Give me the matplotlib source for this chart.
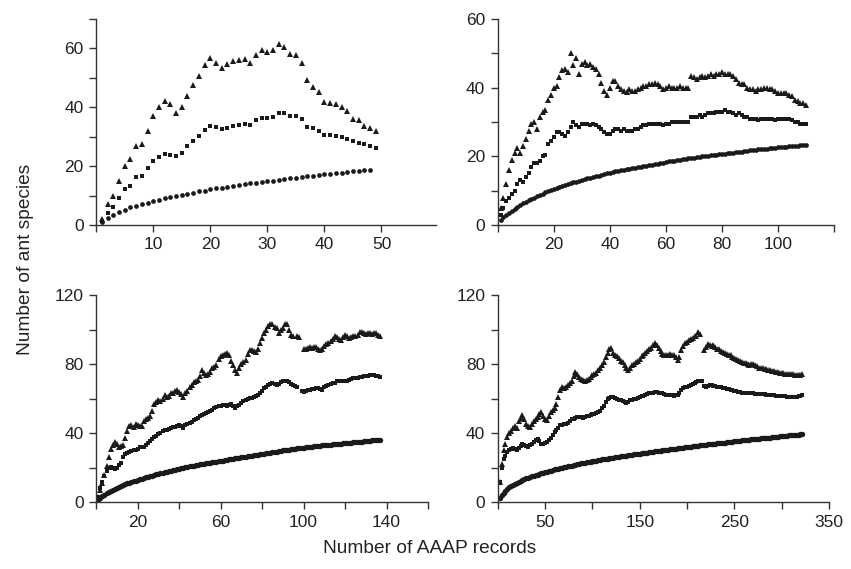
import numpy as np
import matplotlib
matplotlib.use("Agg")
import matplotlib.pyplot as plt

plt.rcParams['font.family'] = ['Liberation Sans', 'DejaVu Sans']

# panel 1 (records 1..49)
tri1 = [2, 7, 10, 15, 20, 22.5, 27, 27.5, 32, 37,
        40, 42, 41, 38, 40, 44, 47.5, 50.5, 54.5, 56.7,
        55.2, 53.3, 54.8, 55.8, 56, 56.3, 55, 57.8, 59.3, 58.7,
        59.5, 61.5, 60.4, 58.2, 57.8, 55, 49.2, 46.9, 45.2, 41.8,
        41.5, 41, 40, 38.8, 36, 35.6, 33.6, 33.1, 31.9]
sq1 = [1.5, 4.2, 6.2, 9, 12.2, 13.2, 16.2, 16.6, 19.2, 21.7,
       23.2, 24.1, 23.7, 23.4, 24.5, 26.8, 28.6, 30.3, 32.4, 33.6,
       33.3, 32.5, 33, 33.8, 33.9, 34.3, 33.9, 35.6, 36.2, 36.2,
       36.7, 37.9, 37.9, 37, 37, 35.9, 33.4, 32.8, 32, 30.6,
       30.6, 30.2, 29.8, 29.2, 28.6, 28, 27.4, 27, 26]
circ1 = [1, 2.4, 3.5, 4.4, 5.2, 6, 6.5, 7, 7.6, 8,
         8.6, 9, 9.5, 9.8, 10.3, 10.6, 11, 11.4, 11.7, 12.1,
         12.4, 12.7, 13, 13.3, 13.6, 13.9, 14.1, 14.4, 14.6, 14.9,
         15.1, 15.4, 15.6, 15.9, 16.1, 16.3, 16.6, 16.8, 17, 17.2,
         17.4, 17.6, 17.8, 18, 18.2, 18.4, 18.6, 18.8]

# panel 2 (records 1..110)
tri2 = [5, 8, 12, 16, 19, 21, 22.5, 21, 23, 25,
        27.5, 29.5, 30, 28, 31.5, 33, 33.5, 36.5, 38, 40,
        40.5, 43, 45, 45.5, 44.5, 50, 46.5, 48.5, 44, 47,
        47.5, 46.5, 47, 46, 45.5, 44, 41.5, 39, 38, 40,
        42, 42, 40.5, 39.5, 39, 38.8, 39.5, 39, 39, 39.5,
        40, 40.5, 40.5, 41, 41, 41.5, 41, 40.5, 39.5, 40,
        40.5, 40, 40, 40, 40.5, 40, 40, 40, 43.5, 43,
        42.5, 43, 43.5, 43, 43.5, 44, 43.5, 44, 44, 44.5,
        44, 44, 44, 43.5, 42.5, 41.5, 41, 41, 40, 39.5,
        39.5, 39, 39.5, 39.5, 40, 40, 39.5, 39.5, 39, 38.5,
        38.5, 38.5, 38.5, 38, 37.5, 36.5, 36, 35.5, 35.5, 35]
sq2 = [3, 5, 7, 8, 9, 10, 12, 13, 12.5, 14,
       15, 17, 18, 18, 18.5, 20, 20.5, 23.5, 24.5, 25.5,
       27, 27, 26.5, 26, 27, 28.5, 30, 29, 28.5, 29.5,
       29.5, 29.5, 29, 29.5, 29, 28.5, 28, 27, 26.5, 26.5,
       27.5, 28, 28, 27.5, 28, 27.5, 27.5, 27.5, 28, 28,
       28.5, 29, 29, 29.5, 29.5, 29.5, 29.5, 29.5, 29, 29.5,
       29.5, 30, 30, 30, 30, 30, 30, 30, 31.5, 31.5,
       31.5, 32, 31.5, 32, 32.5, 32.5, 32.5, 33, 33, 33,
       33.5, 33, 33, 32.5, 32, 32.5, 32, 31.5, 31.5, 31,
       31, 31, 30.5, 31, 31, 31, 31, 31, 30.5, 31,
       31, 31, 31, 31, 30.5, 30, 30, 29.5, 29.5, 29.5]
circ2 = [1.5, 2.3, 3, 3.6, 4.2, 4.8, 5.3, 5.8, 6.3, 6.8,
         7.2, 7.6, 8, 8.4, 8.8, 9.1, 9.5, 9.8, 10.1, 10.4,
         10.7, 11, 11.3, 11.6, 11.9, 12.1, 12.4, 12.6, 12.9, 13.1,
         13.3, 13.6, 13.8, 14, 14.2, 14.4, 14.6, 14.8, 15, 15.2,
         15.4, 15.6, 15.7, 15.9, 16.1, 16.2, 16.4, 16.6, 16.7, 16.9,
         17, 17.2, 17.3, 17.5, 17.6, 17.8, 17.9, 18.1, 18.2, 18.3,
         18.5, 18.6, 18.7, 18.9, 19, 19.1, 19.2, 19.4, 19.5, 19.6,
         19.7, 19.8, 20, 20.1, 20.2, 20.3, 20.4, 20.5, 20.6, 20.7,
         20.8, 20.9, 21, 21.1, 21.2, 21.3, 21.4, 21.5, 21.6, 21.7,
         21.8, 21.9, 22, 22.1, 22.2, 22.2, 22.3, 22.4, 22.5, 22.6,
         22.7, 22.7, 22.8, 22.9, 23, 23, 23.1, 23.2, 23.3, 23.3]

# panel 3 (records 1..137), nan = break in the series
nan = np.nan
tri3 = [3, 7, 11, 16, 21, 26, 31, 33, 35, 33.5,
        32, 32.5, 33, 37, 41, 44, 44.5, 43.5, 45.5, 45,
        44, 44, 47, 48.5, 49, 50, 53, 57, 58, 59,
        58.5, 60, 62, 61, 61.5, 63, 63.5, 64.5, 65, 64,
        62.5, 61, 63, 64.5, 66.5, 68, 69.5, 70, 71, 73,
        76.5, 75, 73.5, 74.5, 75.5, 77.5, 78.5, 79.5, 83, 84.5,
        85.5, 86, 86.5, 85, 82, 79.5, 76.5, 75, 78, 80,
        81.5, 82.5, 86, 88, 88, 87.5, 87, 89, 92, 95,
        98, 100, 102, 103.5, 103, 101.5, 101, 98, 99.5, 101,
        103, 103.5, 100, 97, 96, nan, 96, 95.5, nan, 89,
        89, 89.5, 90, 89.5, 90, 90, 89, 88, 89, 90.5,
        91.5, 92, 93.5, 94.5, 96, 95.5, 94.5, 94, 95.5, 97,
        96, 95, 95.5, 96, 96.5, 97, 98.5, 98.5, 98, 97.5,
        98, 98, 97.5, 98, 98, 97, 96]
sq3 = [3, 8, 12, 15, 18, 20, 20.5, 20, 19.5, 20,
       21.5, 23, 26, 28, 28.5, 29, 29.5, 30, 30.5, 31,
       32, 32, 32, 33, 34.5, 35.5, 36.5, 38, 38.5, 39.5,
       40, 41, 42, 42, 42.5, 43, 43.5, 43.5, 44, 44.5,
       44, 43, 44.5, 45.5, 46, 46.5, 47.5, 48.5, 49, 50,
       50.5, 51, 51.5, 52, 53, 53.5, 54.5, 55, 55.5, 56,
       56.5, 56.5, 56, 56.5, 57, 55.5, 54.5, 55.5, 56.5, 57.5,
       58.5, 59, 60, 60.5, 60.5, 61, 61.5, 62, 63, 64.5,
       66, 67, 68, 68.5, 69, 68.5, 68, 68.5, 69.5, 70,
       70.5, 70.5, 69.5, 68.5, 68, 67.5, 67, nan, 64.5, 64,
       64.5, 65, 65, 65.5, 65.5, 66, 66, 65.5, 65, 66.5,
       67.5, 68, 68.5, 69, 69, 70, 70.5, 70.5, 70, 70,
       70.5, 71, 71.5, 72, 72, 72, 72.5, 72.5, 73, 73,
       73, 73.5, 73.5, 73.5, 73, 73, 72.5]
circ3 = [1.5, 2.5, 3.5, 4.5, 5.5, 6.1, 6.7, 7.3, 7.9, 8.5,
         9, 9.5, 10, 10.5, 11, 11.4, 11.8, 12.2, 12.6, 13,
         13.4, 13.7, 14.1, 14.4, 14.8, 15.1, 15.5, 15.8, 16.2, 16.5,
         16.8, 17.1, 17.4, 17.7, 18, 18.3, 18.6, 18.9, 19.2, 19.5,
         19.8, 20, 20.3, 20.5, 20.8, 21, 21.3, 21.5, 21.8, 22,
         22.2, 22.4, 22.6, 22.8, 23, 23.2, 23.4, 23.6, 23.8, 24,
         24.2, 24.4, 24.6, 24.8, 25, 25.2, 25.4, 25.6, 25.8, 26,
         26.2, 26.4, 26.6, 26.8, 27, 27.2, 27.4, 27.6, 27.8, 28,
         28.2, 28.4, 28.6, 28.8, 29, 29.2, 29.4, 29.6, 29.8, 30,
         30.2, 30.4, 30.5, 30.7, 30.9, 31, 31.2, 31.4, 31.5, 31.7,
         31.8, 32, 32.1, 32.3, 32.4, 32.5, 32.6, 32.8, 32.9, 33,
         33.1, 33.3, 33.4, 33.5, 33.6, 33.8, 33.9, 34, 34.2, 34.3,
         34.4, 34.5, 34.6, 34.8, 34.9, 35, 35.1, 35.2, 35.4, 35.5,
         35.6, 35.7, 35.8, 35.9, 36, 36.2, 36.3]

# panel 4 (every second record, 2..322)
tri4 = [12, 22, 30, 34, 38, 40, 41, 43, 44, 43,
        47, 49, 50.5, 48, 45.5, 44, 43.5, 45.5, 47, 48,
        49.5, 51, 52.5, 50, 48, 47.5, 50, 52.5, 53.5, 54.5,
        57, 61, 65, 66.5, 66, 67, 68, 69, 70.5, 73,
        75.5, 74, 72.5, 71.5, 71, 70.5, 71, 71.5, 72.5, 73.5,
        74, 75, 76.5, 78, 79.5, 81.5, 84, 86.5, 89, 89.5,
        86.5, 85.5, 84.5, 83.5, 82, 81, 79.5, 78, 76.5, 77.5,
        79.5, 80, 81, 82, 83, 84.5, 85.5, 86.5, 87.5, 89,
        89.5, 91, 92, 91, 89.5, 87.5, 86, 85.5, 85, 85.5,
        86, 85.5, 85, 84, 82.5, 84, 88, 90.5, 92, 93,
        94, 94.5, 95, 96, 96.5, 98.5, 97.5, nan, 88, 90,
        91.5, 91, 90.5, 91, 90, 89, 88.5, 87.5, 87, 86.5,
        86, 85.5, 85, 84, 83.5, 83, 82.5, 82, 81, 80.5,
        80.5, 80, 79.5, 80, 80, 79.5, 79, 78, 77.5, 77.5,
        77, 77, 76.5, 76.5, 76, 76, 75.5, 75.5, 75, 75,
        75, 74.5, 74.5, 74.5, 74, 74, 73.5, 73.5, 73.5, 73.5,
        74]
sq4 = [12, 20, 25, 27, 29, 30, 31, 31.5, 31, 30.5,
       31.5, 32.5, 33.5, 33, 32.5, 32, 33, 34, 35, 36,
       36.5, 35.5, 34, 33.5, 34.5, 35, 36, 37.5, 39, 40.5,
       42, 43, 44.5, 45, 45.5, 45.5, 46, 47, 48, 48.5,
       49, 49.5, 49.5, 49.5, 49, 49.5, 50, 50, 50.5, 51,
       51, 51.5, 52, 53, 54.5, 56, 58, 60, 60.5, 61,
       61, 60.5, 60, 59.5, 59, 58.5, 58, 57.5, 58, 59,
       59.5, 60, 60, 60.5, 61, 61.5, 61.5, 62, 62.5, 63,
       63, 63.5, 64, 64, 63.5, 63, 63, 62.5, 62, 62,
       62, 62, 61.5, 62, 62, 63, 65, 66, 66.5, 67,
       67.5, 68, 68.5, 69, 69.5, 70, 70.5, 70, 67.5, 67,
       67.5, 68, 68, 67.5, 67.5, 67, 67, 66.5, 66, 66,
       65.5, 65.5, 65, 65, 64.5, 64.5, 64, 64, 63.5, 63.5,
       63, 63, 63, 63, 63, 62.5, 62.5, 62.5, 62.5, 62.5,
       62.5, 62, 62, 62, 62, 62, 61.5, 61.5, 61.5, 61.5,
       61.5, 61.5, 61, 61, 61, 61, 61, 61, 61.5, 61.5,
       62]
circ4 = [2.5, 4, 5.3, 6.6, 7.8, 8.6, 9.4, 10.1, 10.8, 11.4,
         11.9, 12.4, 12.9, 13.4, 13.8, 14.2, 14.6, 15, 15.4, 15.8,
         16.1, 16.5, 16.8, 17.2, 17.5, 17.8, 18.1, 18.4, 18.7, 19,
         19.3, 19.5, 19.8, 20.1, 20.3, 20.6, 20.8, 21.1, 21.3, 21.6,
         21.8, 22, 22.3, 22.5, 22.7, 22.9, 23.1, 23.4, 23.6, 23.8,
         24, 24.2, 24.4, 24.6, 24.8, 25, 25.1, 25.3, 25.5, 25.7,
         25.9, 26, 26.2, 26.4, 26.6, 26.7, 26.9, 27.1, 27.2, 27.4,
         27.6, 27.7, 27.9, 28, 28.2, 28.4, 28.5, 28.7, 28.8, 29,
         29.2, 29.3, 29.5, 29.6, 29.8, 29.9, 30.1, 30.2, 30.4, 30.5,
         30.7, 30.8, 31, 31.1, 31.3, 31.4, 31.5, 31.7, 31.8, 32,
         32.1, 32.3, 32.4, 32.5, 32.7, 32.8, 32.9, 33.1, 33.2, 33.3,
         33.5, 33.6, 33.7, 33.9, 34, 34.1, 34.3, 34.4, 34.5, 34.6,
         34.8, 34.9, 35, 35.1, 35.3, 35.4, 35.5, 35.6, 35.8, 35.9,
         36, 36.1, 36.2, 36.4, 36.5, 36.6, 36.7, 36.8, 37, 37.1,
         37.2, 37.3, 37.4, 37.5, 37.7, 37.8, 37.9, 38, 38.1, 38.2,
         38.3, 38.5, 38.6, 38.7, 38.8, 38.9, 39, 39.1, 39.2, 39.3,
         39.5]

panels = [
    # data, record step, xlim, xticks, labelled xticks, ylim, yticks, labelled yticks
    ((tri1, sq1, circ1), 1, 59.5, range(0, 51, 10), [10, 20, 30, 40, 50], 70, range(0, 71, 10), [0, 20, 40, 60]),
    ((tri2, sq2, circ2), 1, 120, range(0, 121, 20), [20, 40, 60, 80, 100], 60, range(0, 61, 10), [0, 20, 40, 60]),
    ((tri3, sq3, circ3), 1, 160, range(0, 161, 20), [20, 60, 100, 140], 120, range(0, 121, 20), [0, 40, 80, 120]),
    ((tri4, sq4, circ4), 2, 350, range(0, 351, 50), [50, 150, 250, 350], 120, range(0, 121, 20), [0, 40, 80, 120]),
]
rects = [
    [0.113, 0.6046, 0.399, 0.362],
    [0.585, 0.6046, 0.395, 0.362],
    [0.113, 0.1172, 0.390, 0.3643],
    [0.585, 0.1172, 0.389, 0.3643],
]

fig = plt.figure(figsize=(8.51, 5.69), dpi=100)
ink = '#1a1a1a'
for i, ((series, step, xmax, xt, xlab, ymax, yt, ylab), r) in enumerate(zip(panels, rects)):
    ax = fig.add_axes(r)
    tri, sq, circ = series
    if i == 0:
        sizes = (4.0, 3.2, 3.4)
    elif i == 1:
        sizes = (3.8, 3.0, 3.4)
    else:
        sizes = (3.8, 3.2, 3.9)
    for vals, mk, s in zip((tri, sq, circ), ('^', 's', 'o'), sizes):
        x = step * np.arange(1, len(vals) + 1)
        ax.plot(x, vals, linestyle='none', marker=mk, markersize=s,
                color=ink, markeredgewidth=0)
    ax.set_xlim(0, xmax)
    ax.set_ylim(0, ymax)
    ax.set_xticks(list(xt))
    ax.set_xticklabels([str(v) if v in xlab else '' for v in xt])
    ax.set_yticks(list(yt))
    ax.set_yticklabels([str(v) if v in ylab else '' for v in yt])
    for side in ('top', 'right'):
        ax.spines[side].set_visible(False)
    for side in ('left', 'bottom'):
        ax.spines[side].set_color('#333333')
        ax.spines[side].set_linewidth(1.0)
    ax.tick_params(direction='out', length=5, width=1, color='#333333',
                   labelsize=12.5, labelcolor='#222222', pad=4)

fig.text(0.03, 0.545, 'Number of ant species', rotation=90, ha='center', va='center',
         fontsize=13.8, color='#222222')
fig.text(0.505, 0.036, 'Number of AAAP records', ha='center', va='center',
         fontsize=13.8, color='#222222')

fig.savefig('out.png', dpi=100)
